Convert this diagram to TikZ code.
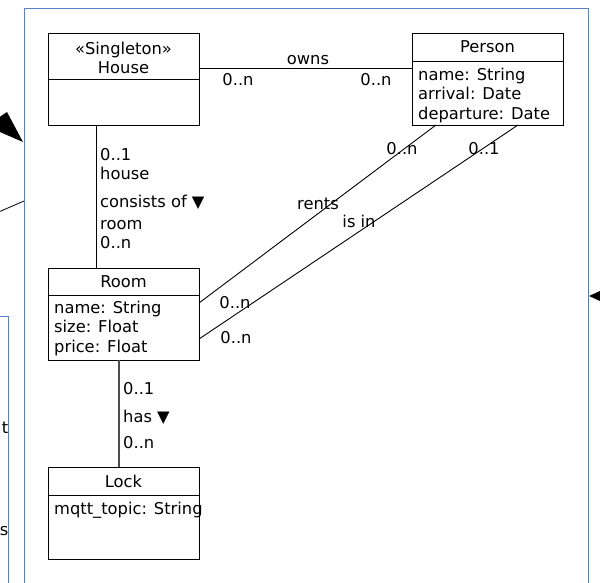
\documentclass[tikz,border=0pt]{standalone}
\usepackage{fontspec}
\setmainfont{DejaVu Sans}
\usepackage{xcolor}
\usetikzlibrary{positioning}
\definecolor{panecol}{RGB}{92,128,196}

\begin{document}
\begin{tikzpicture}[x=1pt,y=-1pt,font=\fontsize{16.3}{19.5}\selectfont,
 clshead/.style={draw=black,line width=0.9pt,minimum width=151pt,inner sep=0pt,outer sep=0pt,anchor=north west,align=center},
 clsbody/.style={draw=black,line width=0.9pt,minimum width=151pt,inner sep=0pt,outer sep=0pt,anchor=north west},
 attr/.style={anchor=north west,align=left,inner sep=0pt,text depth=0pt},
 assoc/.style={draw=black,line width=0.9pt},
 lab/.style={inner sep=0pt,text height=11.9pt,text depth=0pt},
 pane/.style={draw=panecol,line width=1pt}
]
\clip (0,0) rectangle (600,582);
\fill[white] (0,0) rectangle (600,582);

\draw[pane] (24,600)--(24,8)--(588,8)--(588,600);
\draw[pane] (-10,316)--(8,316)--(8,600);
\node[lab,anchor=east] (cutT) at (8.5,428) {t};
\node[lab,anchor=east] (cutS) at (8.5,530) {s};
\coordinate (tipL) at (23,142);
\fill (tipL)--(7,112)--(-14,126)--cycle;
\coordinate (cutL) at (-6,214);
\coordinate (endL) at (24,201);
\draw[line width=0.8pt] (cutL)--(endL);
\coordinate (tipR) at (589,296);
\fill (tipR)--(601,290.5)--(601,301.5)--cycle;

\node[clshead,minimum height=46pt] (houseHead) at (48,33) {};
\node[align=center,inner sep=0pt] (houseTitle) at ([yshift=-2pt]houseHead.center) {«Singleton»\\House};
\node[clsbody,minimum height=46pt] (houseBody) at (48,79) {};
\node[clshead,minimum height=28pt] (personHead) at (412,33) {Person};
\node[clsbody,minimum height=64pt] (personBody) at (412,61) {};
\node[attr] (personAttr) at (418,67.5) {name: String\\arrival: Date\\departure: Date};
\node[clshead,minimum height=27pt] (roomHead) at (48,268) {Room};
\node[clsbody,minimum height=65pt] (roomBody) at (48,295) {};
\node[attr] (roomAttr) at (54,300.5) {name: String\\size: Float\\price: Float};
\node[clshead,minimum height=28pt] (lockHead) at (48,467) {Lock};
\node[clsbody,minimum height=64pt] (lockBody) at (48,495) {};
\node[attr] (lockAttr) at (54,501.5) {mqtt\_topic: String};

\draw[assoc] ([yshift=11pt]houseHead.south east)--([yshift=-7pt]personBody.north west);
\draw[assoc] ([xshift=-27.5pt]houseBody.south)--([xshift=-27.5pt]roomHead.north);
\draw[assoc,draw=black!70,line width=1.2pt] ([xshift=-4.5pt]roomBody.south)--([xshift=-4.5pt]lockHead.north);
\draw[assoc] ([yshift=-8pt]roomBody.north east)--([xshift=-51.5pt]personBody.south);
\draw[assoc] ([yshift=-44pt]roomBody.north east)--([xshift=30.5pt]personBody.south);

\node[lab] (ownsLab) at (308,59) {owns};
\node[lab] (ownsA) at (238,80) {0..n};
\node[lab] (ownsB) at (376,80) {0..n};

\node[lab,anchor=west] (consA) at (100,155) {0..1};
\node[lab,anchor=west] (consRoleA) at (100,174) {house};
\node[lab,anchor=west] (consLab) at (100,202) {consists of ▼};
\node[lab,anchor=west] (consRoleB) at (100,224) {room};
\node[lab,anchor=west] (consB) at (100,243) {0..n};

\node[lab,anchor=west] (hasA) at (123,389) {0..1};
\node[lab,anchor=west] (hasLab) at (123,417) {has ▼};
\node[lab,anchor=west] (hasB) at (123,443) {0..n};

\node[lab] (rentsLab) at (318,204) {rents};
\node[lab] (rentsA) at (235,303) {0..n};
\node[lab] (rentsB) at (402,149) {0..n};
\node[lab] (isinLab) at (359,222) {is in};
\node[lab] (isinA) at (236,338) {0..n};
\node[lab] (isinB) at (484,149) {0..1};
\end{tikzpicture}
\end{document}
